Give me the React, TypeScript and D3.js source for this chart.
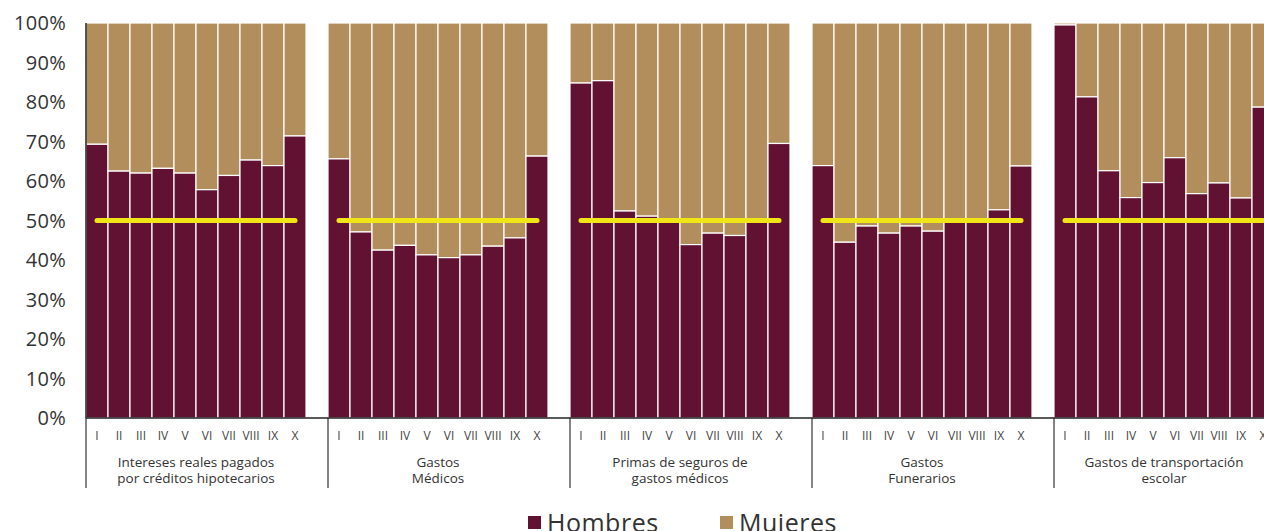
import React, { useRef, useEffect } from 'react'
import * as d3 from 'd3'

const groups = [
  'Intereses reales pagados\npor créditos hipotecarios',
  'Gastos\nMédicos',
  'Primas de seguros de\ngastos médicos',
  'Gastos\nFunerarios',
  'Gastos de transportación\nescolar'
]

const deciles = ['I', 'II', 'III', 'IV', 'V', 'VI', 'VII', 'VIII', 'IX', 'X']

// porcentaje de hombres por decil, en cada grupo
const hombres = [
  [69.3, 62.5, 62.0, 63.2, 62.0, 57.8, 61.4, 65.3, 63.9, 71.4],
  [65.6, 47.1, 42.5, 43.7, 41.3, 40.6, 41.3, 43.5, 45.6, 66.3],
  [84.8, 85.4, 52.4, 51.1, 49.8, 43.9, 46.8, 46.2, 50.2, 69.5],
  [63.9, 44.5, 48.6, 46.8, 48.6, 47.3, 49.9, 50.1, 52.7, 63.8],
  [99.5, 81.3, 62.6, 55.8, 59.6, 65.9, 56.8, 59.5, 55.7, 78.7]
]

const yTicks = [0, 10, 20, 30, 40, 50, 60, 70, 80, 90, 100]
const referencia = 50

const series = [
  { key: 'Hombres', color: '#611232' },
  { key: 'Mujeres', color: '#b38e5d' }
]

const W = 1264
const H = 531
const FONT = '"Open Sans", "DejaVu Sans", sans-serif'

const App: React.FC = () => {
  const svgRef = useRef<SVGSVGElement>(null)

  useEffect(() => {
    if (!svgRef.current) return
    const svg = d3.select(svgRef.current)
    svg.selectAll('*').remove()

    const left = 86
    const groupW = 242
    const top = 23
    const bottom = 418

    const x0 = d3.scaleBand<string>()
      .domain(groups)
      .range([left, left + groupW * groups.length])
    const x1 = d3.scaleBand<string>()
      .domain(deciles)
      .range([0, groupW * 10 / 11])
    const y = d3.scaleLinear().domain([0, 100]).range([bottom, top])

    // barras apiladas
    groups.forEach((g, gi) => {
      const gx = x0(g)!
      const grp = svg.append('g').attr('transform', `translate(${gx},0)`)
      deciles.forEach((d, di) => {
        const h = hombres[gi][di]
        const bx = x1(d)!
        grp.append('rect')
          .attr('x', bx).attr('width', x1.bandwidth())
          .attr('y', y(100)).attr('height', y(h) - y(100))
          .attr('fill', series[1].color)
          .attr('stroke', '#fff').attr('stroke-width', 1.2)
        grp.append('rect')
          .attr('x', bx).attr('width', x1.bandwidth())
          .attr('y', y(h)).attr('height', y(0) - y(h))
          .attr('fill', series[0].color)
          .attr('stroke', '#fff').attr('stroke-width', 1.2)
      })
      // línea de referencia 50%
      grp.append('line')
        .attr('x1', x1('I')! + x1.bandwidth() / 2)
        .attr('x2', x1('X')! + x1.bandwidth() / 2)
        .attr('y1', y(referencia)).attr('y2', y(referencia))
        .attr('stroke', '#f0e617').attr('stroke-width', 5)
        .attr('stroke-linecap', 'round')

      // etiquetas de decil
      grp.selectAll('text.dec')
        .data(deciles)
        .enter().append('text')
        .attr('class', 'dec')
        .attr('x', d => x1(d)! + x1.bandwidth() / 2)
        .attr('y', 440)
        .attr('text-anchor', 'middle')
        .attr('font-size', '12px')
        .attr('font-family', FONT)
        .attr('fill', '#444')
        .text(d => d)

      // nombre del grupo
      const lines = g.split('\n')
      grp.append('text')
        .attr('x', groupW / 2 - 11)
        .attr('text-anchor', 'middle')
        .attr('font-size', '13.5px')
        .attr('font-family', FONT)
        .attr('fill', '#333')
        .selectAll('tspan')
        .data(lines)
        .enter().append('tspan')
        .attr('x', groupW / 2 - 11)
        .attr('y', (_, i) => 467 + i * 16)
        .text(t => t)

      // separador
      grp.append('line')
        .attr('x1', 0).attr('x2', 0)
        .attr('y1', bottom).attr('y2', 488)
        .attr('stroke', '#333').attr('stroke-width', 1.2)
    })

    // ejes
    svg.append('line')
      .attr('x1', left).attr('x2', left)
      .attr('y1', top).attr('y2', bottom)
      .attr('stroke', '#222').attr('stroke-width', 1.5)
    svg.append('line')
      .attr('x1', left).attr('x2', W)
      .attr('y1', bottom).attr('y2', bottom)
      .attr('stroke', '#222').attr('stroke-width', 1.5)

    svg.append('g')
      .selectAll('text')
      .data(yTicks)
      .enter().append('text')
      .attr('x', 66)
      .attr('y', d => y(d))
      .attr('dy', '0.35em')
      .attr('text-anchor', 'end')
      .attr('font-size', '20px')
      .attr('letter-spacing', '0.3px')
      .attr('font-family', FONT)
      .attr('fill', '#333')
      .text(d => `${d}%`)

    // leyenda
    const legendX = [528, 720]
    series.forEach((s, i) => {
      svg.append('rect')
        .attr('x', legendX[i]).attr('y', 516)
        .attr('width', 13).attr('height', 13)
        .attr('fill', s.color)
      svg.append('text')
        .attr('x', legendX[i] + 19).attr('y', 532)
        .attr('font-size', '25px')
        .attr('letter-spacing', '0.5px')
        .attr('font-family', FONT)
        .attr('fill', '#333')
        .text(s.key)
    })
  }, [])

  return (
    <svg
      ref={svgRef}
      width={W}
      height={H}
      style={{ position: 'absolute', left: 0, top: 0, background: '#fff', display: 'block' }}
    />
  )
}

export default App
